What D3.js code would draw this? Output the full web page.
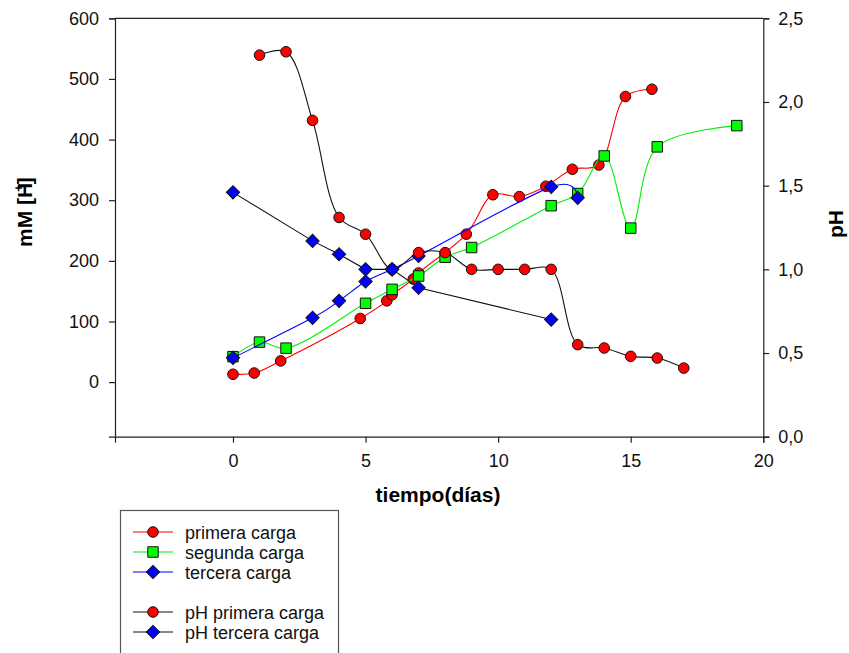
<!DOCTYPE html>
<html>
<head>
<meta charset="utf-8">
<script src="https://cdn.jsdelivr.net/npm/d3@7"></script>
<style>
  body { margin: 0; background: #fff; }
  svg { display: block; font-family: "Liberation Sans", Arial, sans-serif; }
</style>
</head>
<body>
<div id="graph"></div>
<script>
const width = 849;
const height = 653;

// datos
const diasPrimera = [0, 0.8, 1.8, 4.8, 5.8, 6, 6.8, 7, 8.8, 9.8, 10.8, 11.8, 12.8, 13.8, 14.8, 15.8];
const mMPrimera   = [13, 15, 35, 105, 134, 144, 170, 180, 244, 309, 306, 323, 351, 358, 471, 483];

const diasSegunda = [0, 1, 2, 5, 6, 7, 8, 9, 12, 13, 14, 15, 16, 19];
const mMSegunda   = [42, 66, 56, 130, 153, 175, 206, 222, 291, 311, 373, 254, 388, 423];

const diasTercera = [0, 3, 4, 5, 6, 7, 12, 13];
const mMTercera   = [40, 106, 134, 166, 186, 208, 322, 304];

const diasPHPrimera = [1, 2, 3, 4, 5, 6, 7, 8, 9, 10, 11, 12, 13, 14, 15, 16, 17];
const pHPrimera     = [2.28, 2.30, 1.89, 1.31, 1.21, 1.0, 1.10, 1.10, 1.0, 1.0, 1.0, 1.0, 0.55, 0.53, 0.48, 0.47, 0.41];

const diasPHTercera = [0, 3, 4, 5, 6, 7, 12];
const pHTercera     = [1.46, 1.17, 1.09, 1.0, 1.0, 0.89, 0.70];

const xTicks = [0, 5, 10, 15, 20];
const mMTicks = [0, 100, 200, 300, 400, 500, 600];
const pHTicks = [0, 0.5, 1.0, 1.5, 2.0, 2.5];

const legendLabels = ["primera carga", "segunda carga", "tercera carga", "pH primera carga", "pH tercera carga"];

// escalas
const plot = { left: 115, right: 763.3, top: 18.3, bottom: 436.7 };
const x = d3.scaleLinear().domain([-4.45, 20]).range([plot.left, plot.right]);
const yMM = d3.scaleLinear().domain([-90, 600]).range([plot.bottom, plot.top]);
const yPH = d3.scaleLinear().domain([0, 2.5]).range([plot.bottom, plot.top]);

const coma = d3.formatLocale({ decimal: ",", thousands: ".", grouping: [3], currency: ["", ""] }).format(".1f");

const svg = d3.select("#graph").append("svg")
    .attr("width", width)
    .attr("height", height);

const axisColor = "#222";

// ejes
const gLeft = svg.append("g")
    .attr("transform", `translate(${plot.left},0)`)
    .call(d3.axisLeft(yMM).tickValues(mMTicks).tickSizeOuter(0).tickSize(6).tickPadding(10));
const gRight = svg.append("g")
    .attr("transform", `translate(${plot.right},0)`)
    .call(d3.axisRight(yPH).tickValues(pHTicks).tickFormat(coma).tickSizeOuter(0).tickSize(6).tickPadding(9));
const gBottom = svg.append("g")
    .attr("transform", `translate(0,${plot.bottom})`)
    .call(d3.axisBottom(x).tickValues(xTicks).tickSizeOuter(0).tickSize(6).tickPadding(12));

[gLeft, gRight, gBottom].forEach(g => {
    g.selectAll("path, line").attr("stroke", axisColor).attr("stroke-width", 1.2);
    g.selectAll("text").attr("font-size", 18).attr("fill", "#111")
        .attr("font-family", "'Liberation Sans', Arial, sans-serif");
});

// linea superior del marco
svg.append("line")
    .attr("x1", plot.left).attr("x2", plot.right)
    .attr("y1", plot.top).attr("y2", plot.top)
    .attr("stroke", axisColor).attr("stroke-width", 1.2);

// titulos
const tituloY = svg.append("text")
    .attr("transform", "translate(32,212) rotate(-90)")
    .attr("text-anchor", "middle")
    .attr("font-size", 21).attr("font-weight", "bold");
tituloY.append("tspan").text("mM [H");
tituloY.append("tspan").attr("font-size", 13).attr("dy", -9).attr("dx", -9).text("+");
tituloY.append("tspan").attr("dy", 9).text("]");

svg.append("text")
    .attr("transform", "translate(843,224) rotate(-90)")
    .attr("text-anchor", "middle")
    .attr("font-size", 21).attr("font-weight", "bold")
    .text("pH");

svg.append("text")
    .attr("x", 438).attr("y", 502)
    .attr("text-anchor", "middle")
    .attr("font-size", 21).attr("font-weight", "bold")
    .text("tiempo(días)");

// series
const circulo = d3.symbol().type(d3.symbolCircle).size(88);
const cuadro = d3.symbol().type(d3.symbolSquare).size(110);
const rombo = d3.symbol().type(d3.symbolSquare).size(88);

const series = [
    { dias: diasPrimera, vals: mMPrimera, y: yMM, line: "#ff0000", fill: "#ff0000", sym: "circle", curve: d3.curveCatmullRom },
    { dias: diasSegunda, vals: mMSegunda, y: yMM, line: "#00f000", fill: "#00ff00", sym: "square", curve: d3.curveCatmullRom },
    { dias: diasTercera, vals: mMTercera, y: yMM, line: "#0000ff", fill: "#0000ff", sym: "diamond", curve: d3.curveCatmullRom.alpha(0) },
    { dias: diasPHPrimera, vals: pHPrimera, y: yPH, line: "#111", fill: "#ff0000", sym: "circle", curve: d3.curveCatmullRom },
    { dias: diasPHTercera, vals: pHTercera, y: yPH, line: "#111", fill: "#0000ff", sym: "diamond", curve: d3.curveLinear }
];

function drawSymbol(g, s, px, py) {
    if (s.sym === "circle") {
        g.append("path").attr("d", circulo()).attr("transform", `translate(${px},${py})`);
    } else if (s.sym === "square") {
        g.append("path").attr("d", cuadro()).attr("transform", `translate(${px},${py})`);
    } else {
        g.append("path").attr("d", rombo()).attr("transform", `translate(${px},${py}) rotate(45)`);
    }
}

series.forEach(s => {
    const pts = s.dias.map((d, i) => [x(d), s.y(s.vals[i])]);
    const line = d3.line().curve(s.curve);
    const g = svg.append("g");
    g.append("path")
        .attr("d", line(pts))
        .attr("fill", "none")
        .attr("stroke", s.line)
        .attr("stroke-width", 1.1);
    const gm = g.append("g").attr("fill", s.fill).attr("stroke", "#111").attr("stroke-width", 1);
    pts.forEach(p => drawSymbol(gm, s, p[0], p[1]));
});

// leyenda
const legend = svg.append("g");
legend.append("rect")
    .attr("x", 120.5).attr("y", 510.5)
    .attr("width", 218).attr("height", 160)
    .attr("fill", "none").attr("stroke", "#555").attr("stroke-width", 1.2);

const legendY = [532, 552, 572, 612, 632];
series.forEach((s, i) => {
    const cy = legendY[i];
    legend.append("line")
        .attr("x1", 133).attr("x2", 173)
        .attr("y1", cy).attr("y2", cy)
        .attr("stroke", s.line).attr("stroke-width", 1.1);
    const gm = legend.append("g").attr("fill", s.fill).attr("stroke", "#111").attr("stroke-width", 1);
    drawSymbol(gm, s, 153, cy);
    legend.append("text")
        .attr("x", 185).attr("y", cy + 6.5)
        .attr("font-size", 18).attr("fill", "#111")
        .text(legendLabels[i]);
});
</script>
</body>
</html>
